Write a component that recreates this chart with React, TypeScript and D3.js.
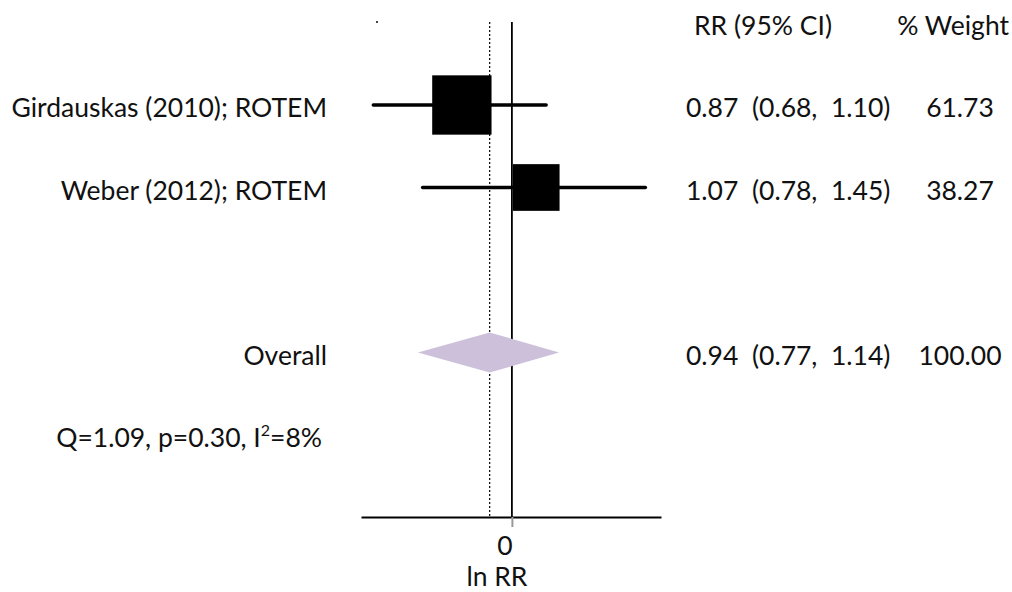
import React, { useRef, useEffect } from 'react';
import * as d3 from 'd3';

const studies = ['Girdauskas (2010); ROTEM', 'Weber (2012); ROTEM'];
const rr = [0.87, 1.07];
const lower = [0.68, 0.78];
const upper = [1.10, 1.45];
const weights = [61.73, 38.27];
const rrText = ['0.87  (0.68,  1.10)', '1.07  (0.78,  1.45)'];
const weightText = ['61.73', '38.27'];

const overall = { rr: 0.94, lo: 0.77, hi: 1.14, text: '0.94  (0.77,  1.14)', weight: '100.00' };
const hetero = ['Q=1.09, p=0.30, I', '2', '=8%'];

const FONT = 'Lato, "Open Sans", sans-serif';

const ForestPlot = () => {
  const ref = useRef(null);

  useEffect(() => {
    const width = 1012;
    const height = 592;
    const svg = d3.select(ref.current).attr('width', width).attr('height', height);
    svg.selectAll('*').remove();

    const x = d3.scaleLinear().domain([-0.42, 0.415]).range([361, 661]);
    // row index -> centre y
    const y = d3.scaleLinear().domain([0, 1]).range([105, 187.5]);
    const axisY = 517;
    const topY = 22;
    const fs = 26.5;

    const g = svg.append('g').style('font-family', FONT).style('font-size', fs + 'px').attr('fill', '#111');

    // little stray dot at the top
    g.append('rect').attr('x', 376).attr('y', 21).attr('width', 2).attr('height', 2).attr('fill', '#444');

    // reference lines
    g.append('line')
      .attr('x1', x(Math.log(overall.rr))).attr('x2', x(Math.log(overall.rr)))
      .attr('y1', topY).attr('y2', axisY)
      .attr('stroke', '#000').attr('stroke-width', 1.2).attr('stroke-dasharray', '2,2');
    g.append('line')
      .attr('x1', x(0)).attr('x2', x(0))
      .attr('y1', topY).attr('y2', axisY)
      .attr('stroke', '#000').attr('stroke-width', 1.8);

    // axis
    const axis = g.append('g')
      .attr('transform', `translate(0,${axisY})`)
      .call(d3.axisBottom(x).tickValues([0]).tickSize(10).tickSizeOuter(0).tickFormat(() => ''));
    axis.select('.domain').attr('stroke', '#000').attr('stroke-width', 2);
    axis.selectAll('.tick line').attr('stroke', '#999').attr('stroke-width', 2);
    g.append('text').attr('x', x(0) - 7).attr('y', 555).attr('text-anchor', 'middle').text('0');
    g.append('text').attr('x', x(0) - 15).attr('y', 586).attr('text-anchor', 'middle').text('ln RR');

    // headers
    g.append('text').attr('x', 694).attr('y', y(-1) + 12).text('RR (95% CI)');
    g.append('text').attr('x', 1009).attr('y', y(-1) + 12).attr('text-anchor', 'end').text('% Weight');

    // study rows
    studies.forEach((name, i) => {
      const cy = y(i);
      g.append('line')
        .attr('x1', x(Math.log(lower[i]))).attr('x2', x(Math.log(upper[i])))
        .attr('y1', cy).attr('y2', cy)
        .attr('stroke', '#000').attr('stroke-width', 3.5).attr('stroke-linecap', 'round');
      const side = 7.55 * Math.sqrt(weights[i]);
      g.append('rect')
        .attr('x', x(Math.log(rr[i])) - side / 2).attr('y', cy - side / 2)
        .attr('width', side).attr('height', side).attr('fill', '#000');
      g.append('text').attr('x', 327).attr('y', cy + 12).attr('text-anchor', 'end').text(name);
      g.append('text').attr('x', 686).attr('y', cy + 12).style('white-space', 'pre').text(rrText[i]);
      g.append('text').attr('x', 960).attr('y', cy + 12).attr('text-anchor', 'middle').text(weightText[i]);
    });

    // overall diamond
    const oy = y(3);
    const diamond = [
      [x(Math.log(overall.lo)), oy],
      [x(Math.log(overall.rr)), oy - 20],
      [x(Math.log(overall.hi)), oy],
      [x(Math.log(overall.rr)), oy + 20]
    ];
    g.append('path').attr('d', d3.line()(diamond) + 'Z').attr('fill', '#ccc0da');
    g.append('text').attr('x', 327).attr('y', oy + 12).attr('text-anchor', 'end').text('Overall');
    g.append('text').attr('x', 686).attr('y', oy + 12).style('white-space', 'pre').text(overall.text);
    g.append('text').attr('x', 960).attr('y', oy + 12).attr('text-anchor', 'middle').text(overall.weight);

    // heterogeneity
    const q = g.append('text').attr('x', 322).attr('y', y(4) + 12).attr('text-anchor', 'end');
    q.append('tspan').text(hetero[0]);
    q.append('tspan').attr('dy', -11).style('font-size', '16px').text(hetero[1]);
    q.append('tspan').attr('dy', 11).text(hetero[2]);
  }, []);

  return <svg ref={ref} style={{ position: 'absolute', left: 0, top: 0, background: '#fff' }} />;
};

export default function App() {
  return <ForestPlot />;
}
